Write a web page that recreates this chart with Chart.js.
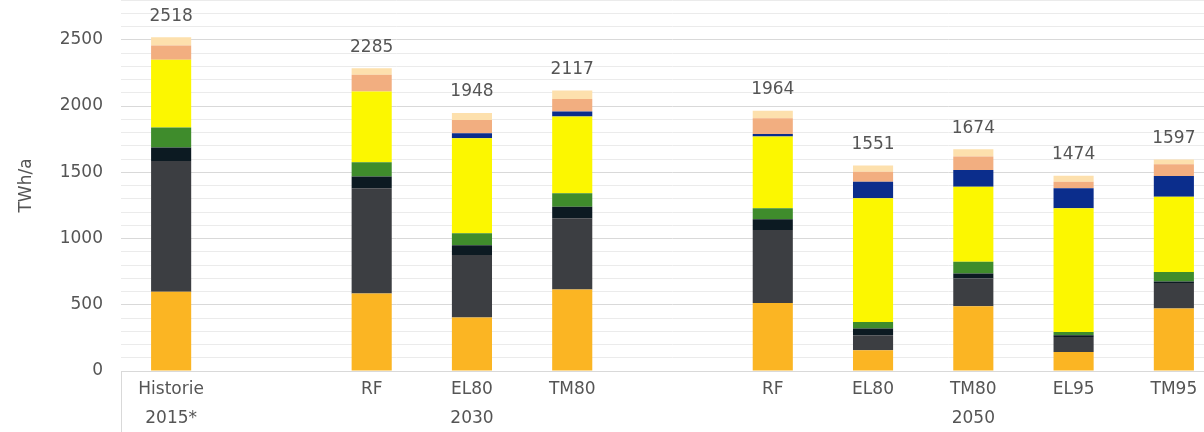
<!DOCTYPE html>
<html>
<head>
<meta charset="utf-8">
<script src="https://cdn.jsdelivr.net/npm/chart.js@4"></script>
<style>
  html, body { margin: 0; padding: 0; background: #fff; overflow: hidden; }
  #wrap { position: relative; width: 1224px; height: 432px; }
</style>
</head>
<body>
<div id="wrap"><canvas id="chart"></canvas></div>
<script>
"use strict";

// Categories (empty strings are the gaps between the groups)
var categories = [["Historie", "2015*"], "", "RF", ["EL80", "2030"], "TM80", "", "RF", "EL80", ["TM80", "2050"], "EL95", "TM95"];

// stacked segments, bottom to top, TWh/a
var orangeVals = [598, null, 585, 404, 615, null, 514, 156, 489, 144, 472];
var greyVals   = [987, null, 794, 471, 537, null, 550, 114, 210, 113, 193];
var blackVals  = [101, null,  88,  75,  88, null,  81,  50,  37,  13,  10];
var greenVals  = [151, null, 108,  89, 101, null,  83,  50,  88,  25,  73];
var yellowVals = [512, null, 534, 718, 579, null, 541, 933, 567, 933, 568];
var blueVals   = [  0, null,   0,  38,  38, null,  20, 126, 126, 151, 156];
var peachVals  = [108, null, 126, 100,  94, null, 119,  75, 101,  50,  88];
var lightVals  = [ 61, null,  50,  53,  65, null,  56,  47,  56,  45,  37];

// totals written above the bars
var totals = [2518, null, 2285, 1948, 2117, null, 1964, 1551, 1674, 1474, 1597];

var textColor = "#555555";
var fontFamily = "'DejaVu Sans', sans-serif";

function makeSet(label, data, color) {
    return {
        label: label,
        data: data,
        backgroundColor: color,
        borderWidth: 0,
        barPercentage: 0.4,
        categoryPercentage: 1.0
    };
}

// draws the totals and the little separator under the axis
var totalsPlugin = {
    id: "totals",
    afterDatasetsDraw: function (chart) {
        var ctx = chart.ctx,
            xs = chart.scales.x,
            ys = chart.scales.y;
        ctx.save();
        ctx.fillStyle = textColor;
        ctx.font = "17px " + fontFamily;
        ctx.textAlign = "center";
        ctx.textBaseline = "middle";
        totals.forEach(function (t, i) {
            if (t === null) {
                return;
            }
            ctx.fillText(String(t), xs.getPixelForValue(i), ys.getPixelForValue(t) - 21);
        });
        // separator line at the left of the category axis
        ctx.strokeStyle = "#d9d9d9";
        ctx.lineWidth = 1;
        ctx.beginPath();
        ctx.moveTo(Math.round(chart.chartArea.left) + 0.5, chart.chartArea.bottom);
        ctx.lineTo(Math.round(chart.chartArea.left) + 0.5, chart.height);
        ctx.stroke();
        ctx.restore();
    }
};

var chart = new Chart(document.getElementById("chart").getContext("2d"), {
    type: "bar",
    data: {
        labels: categories,
        datasets: [
            makeSet("orange", orangeVals, "#fbb523"),
            makeSet("grey", greyVals, "#3c3e42"),
            makeSet("black", blackVals, "#0c1a22"),
            makeSet("green", greenVals, "#3f8c2c"),
            makeSet("yellow", yellowVals, "#fcf700"),
            makeSet("blue", blueVals, "#0b2d8c"),
            makeSet("peach", peachVals, "#f2ae80"),
            makeSet("light", lightVals, "#fde0ad")
        ]
    },
    options: {
        responsive: true,
        maintainAspectRatio: false,
        animation: false,
        layout: { padding: 0 },
        plugins: {
            legend: { display: false },
            tooltip: { enabled: false }
        },
        scales: {
            x: {
                stacked: true,
                grid: { drawOnChartArea: false, drawTicks: false },
                border: { display: true, color: "#d9d9d9" },
                ticks: {
                    color: textColor,
                    font: { family: fontFamily, size: 17, lineHeight: 1.7 },
                    padding: 4,
                    maxRotation: 0,
                    autoSkip: false
                },
                afterFit: function (scale) {
                    scale.height = 61;
                    scale.paddingLeft = 0;
                    scale.paddingRight = 0;
                }
            },
            y: {
                stacked: true,
                min: 0,
                max: 2800,
                border: { display: false },
                grid: {
                    drawTicks: false,
                    color: function (c) {
                        return c.tick && c.tick.value % 500 === 0 ? "#d9d9d9" : "#ebebeb";
                    }
                },
                ticks: {
                    stepSize: 100,
                    autoSkip: false,
                    padding: 18,
                    color: textColor,
                    font: { family: fontFamily, size: 17 },
                    callback: function (v) {
                        return (v % 500 === 0 && v <= 2500) ? String(v) : "";
                    }
                },
                title: {
                    display: true,
                    text: "TWh/a",
                    color: textColor,
                    font: { family: fontFamily, size: 17 },
                    padding: { top: 16, bottom: 23 }
                },
                afterFit: function (scale) {
                    scale.width = 121;
                    scale.paddingTop = 0;
                    scale.paddingBottom = 0;
                }
            }
        }
    },
    plugins: [totalsPlugin]
});
</script>
</body>
</html>
